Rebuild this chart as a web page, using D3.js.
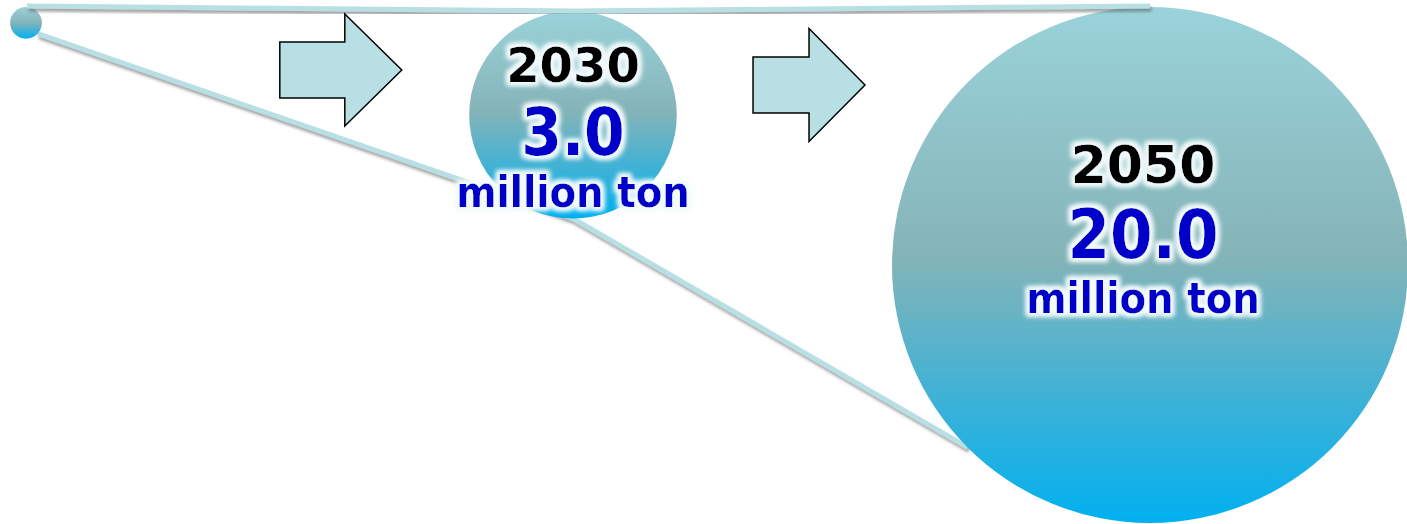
<!DOCTYPE html>
<html>
<head>
<meta charset="utf-8">
<script src="https://cdn.jsdelivr.net/npm/d3@7"></script>
<style>
  html, body { margin: 0; padding: 0; background: #fff; overflow: hidden; }
  text { font-family: "DejaVu Sans", Verdana, sans-serif; font-weight: bold; }
  text.cond { font-family: "DejaVu Sans Condensed", "DejaVu Sans", sans-serif; font-stretch: condensed; }
</style>
</head>
<body>
<div id="chart"></div>
<script>
// data
const stages = ["now", "2030", "2050"];
const volumes = [0.06, 3.0, 20.0];          // million ton (first one unlabelled, estimated)
const yearLabels = ["", "2030", "2050"];
const valueLabels = ["", "3.0", "20.0"];
const unitLabel = "million ton";

const width = 1407, height = 524;

const svg = d3.select("#chart").append("svg")
    .attr("width", width)
    .attr("height", height);

const defs = svg.append("defs");

// circle fill gradient
const grad = defs.append("linearGradient")
    .attr("id", "ballGrad")
    .attr("x1", 0).attr("y1", 0).attr("x2", 0).attr("y2", 1);
grad.append("stop").attr("offset", "0%").attr("stop-color", "#9ad3da");
grad.append("stop").attr("offset", "48%").attr("stop-color", "#85b4b8");
grad.append("stop").attr("offset", "100%").attr("stop-color", "#00b0f0");

// soft shadow for the connector lines
const sh = defs.append("filter").attr("id", "lineShadow")
    .attr("x", "-5%").attr("y", "-50%").attr("width", "110%").attr("height", "200%");
sh.append("feDropShadow")
    .attr("dx", 1.5).attr("dy", 3).attr("stdDeviation", 1.6)
    .attr("flood-color", "#555").attr("flood-opacity", 0.55);

// white glow behind the labels
const glow = defs.append("filter").attr("id", "glow")
    .attr("x", "-20%").attr("y", "-40%").attr("width", "140%").attr("height", "180%");
glow.append("feMorphology").attr("in", "SourceAlpha").attr("operator", "dilate").attr("radius", 2.5).attr("result", "fat");
glow.append("feGaussianBlur").attr("in", "fat").attr("stdDeviation", 2.8).attr("result", "blur");
glow.append("feFlood").attr("flood-color", "#f2fafb").attr("flood-opacity", 1);
glow.append("feComposite").attr("in2", "blur").attr("operator", "in").attr("result", "halo");
const merge = glow.append("feMerge");
merge.append("feMergeNode").attr("in", "halo");
merge.append("feMergeNode").attr("in", "halo");
merge.append("feMergeNode").attr("in", "SourceGraphic");

// scales
const r = d3.scalePow().exponent(0.48)
    .domain([0, d3.max(volumes)])
    .range([0, 258]);

const x = d3.scaleLinear()
    .domain([0, 1, 2])
    .range([26, 573, 1150]);

const topY = 7;
const nodes = stages.map((s, i) => ({
    key: s,
    cx: x(i),
    cy: topY + r(volumes[i]) + (i === 1 ? 4 : 0),
    r: r(volumes[i]),
    year: yearLabels[i],
    value: valueLabels[i]
}));

const line = d3.line().x(d => d[0]).y(d => d[1]);

// lower connector (behind the balls)
const a = nodes[0], b = nodes[1], c = nodes[2];
const lowPts = [
    [a.cx + a.r * Math.cos(0.75), a.cy + a.r * Math.sin(0.75)],
    [b.cx, b.cy + b.r],
    [c.cx + c.r * Math.cos(Math.PI * 0.75), c.cy + c.r * Math.sin(Math.PI * 0.75)]
];
svg.append("path")
    .attr("d", line(lowPts))
    .attr("fill", "none")
    .attr("stroke", "#b8dfe3")
    .attr("stroke-width", 5)
    .attr("filter", "url(#lineShadow)");

// balls
svg.selectAll("circle.ball")
    .data(nodes)
    .join("circle")
    .attr("class", "ball")
    .attr("cx", d => d.cx)
    .attr("cy", d => d.cy)
    .attr("r", d => d.r)
    .attr("fill", "url(#ballGrad)");

// upper connector (over the balls)
const topPts = [
    [a.cx + 1, a.cy - a.r - 1],
    [b.cx, b.cy - b.r],
    [c.cx, c.cy - c.r - 1]
];
svg.append("path")
    .attr("d", line(topPts))
    .attr("fill", "none")
    .attr("stroke", "#b8dfe3")
    .attr("stroke-width", 5)
    .attr("filter", "url(#lineShadow)");

// block arrows between the balls
const arrowShape = (w, h, bodyW, bodyH) => {
    const p = d3.path();
    p.moveTo(0, -bodyH / 2);
    p.lineTo(bodyW, -bodyH / 2);
    p.lineTo(bodyW, -h / 2);
    p.lineTo(w, 0);
    p.lineTo(bodyW, h / 2);
    p.lineTo(bodyW, bodyH / 2);
    p.lineTo(0, bodyH / 2);
    p.closePath();
    return p.toString();
};
const arrows = [
    { x: x(0.464), y: 70, w: 122, h: 112, bw: 65, bh: 56 },
    { x: x(1.312), y: 85, w: 112, h: 113, bw: 56, bh: 56 }
];
svg.selectAll("path.arrow")
    .data(arrows)
    .join("path")
    .attr("class", "arrow")
    .attr("transform", d => `translate(${d.x},${d.y})`)
    .attr("d", d => arrowShape(d.w, d.h, d.bw, d.bh))
    .attr("fill", "#b8dfe3")
    .attr("stroke", "#000")
    .attr("stroke-width", 1.5)
    .attr("stroke-linejoin", "miter");

// labels
const labelled = nodes.filter(d => d.year);
const lab = svg.selectAll("g.lab")
    .data(labelled)
    .join("g")
    .attr("class", "lab")
    .attr("text-anchor", "middle")
    .attr("filter", "url(#glow)");

const big = d => d.key === "2050";
const tx = d => d.cx + (big(d) ? -7 : 0);
lab.append("text")
    .attr("x", tx)
    .attr("y", d => big(d) ? 183 : 82)
    .attr("font-size", d => big(d) ? 52 : 48)
    .attr("fill", "#000")
    .text(d => d.year);
lab.append("text")
    .attr("class", "cond")
    .attr("x", tx)
    .attr("y", d => big(d) ? 258 : 155)
    .attr("font-size", d => big(d) ? 68 : 65)
    .attr("fill", "#0000c8")
    .text(d => d.value);
lab.append("text")
    .attr("class", "cond")
    .attr("x", tx)
    .attr("y", d => big(d) ? 313 : 207)
    .attr("font-size", 43)
    .attr("fill", "#0000c8")
    .text(unitLabel);
</script>
</body>
</html>
